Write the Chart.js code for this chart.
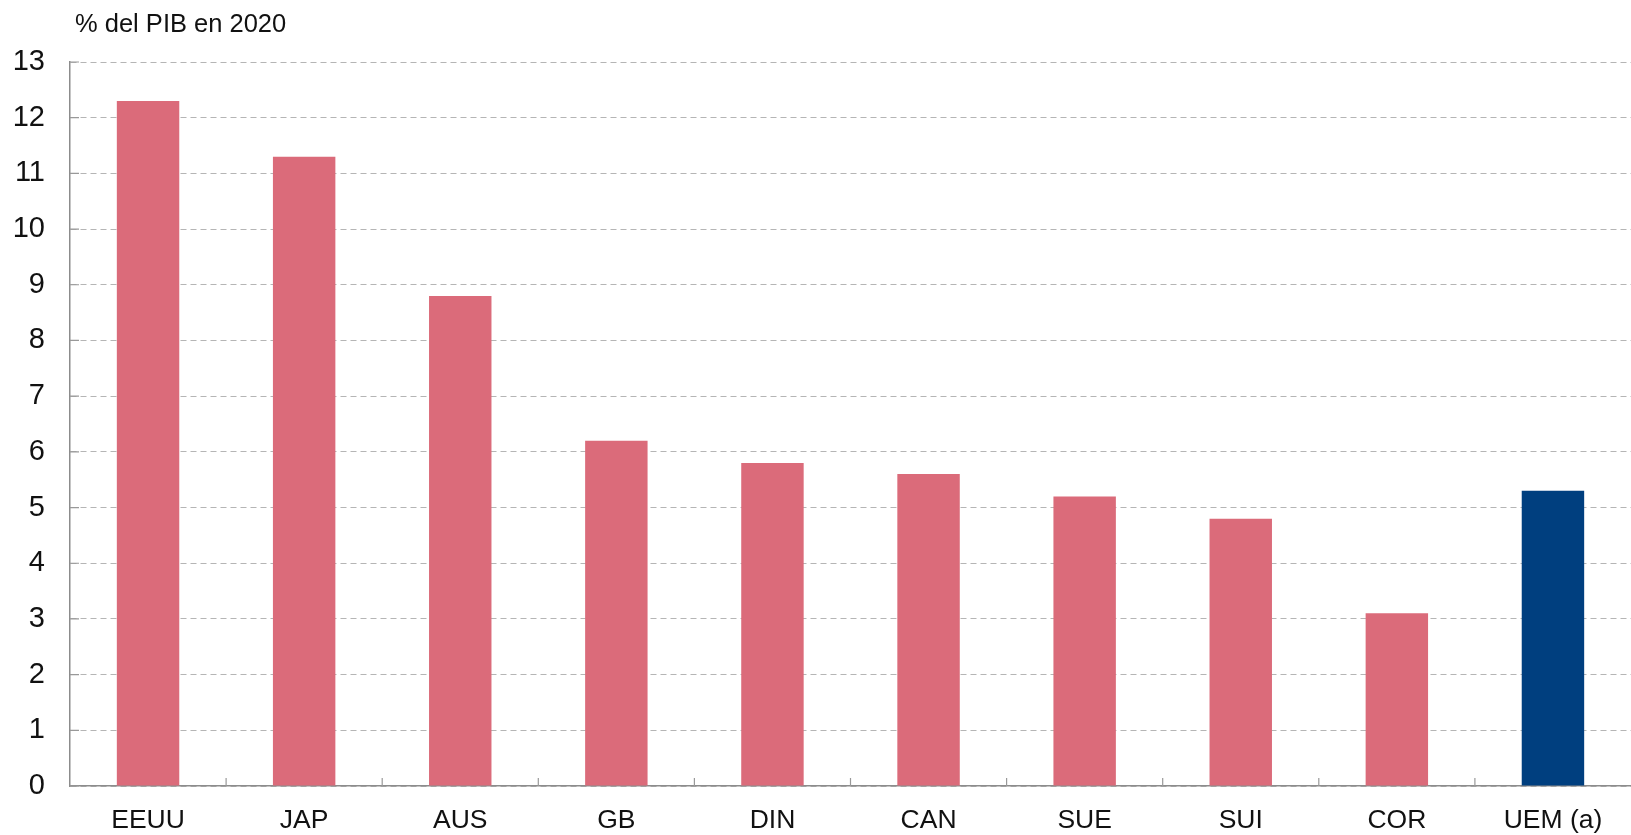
<!DOCTYPE html>
<html>
<head>
<meta charset="utf-8">
<script src="https://cdn.jsdelivr.net/npm/chart.js@4.4.0/dist/chart.umd.min.js"></script>
<style>
    html, body { margin: 0; padding: 0; background: #fff; }
    #wrap { position: relative; width: 1631px; height: 835px; }
    #unidad { position: absolute; left: 75px; top: 9px; font-family: "Liberation Sans", Arial, sans-serif; font-size: 25.5px; color: #111; }
</style>
</head>
<body>
<div id="wrap">
    <canvas id="myChart" width="1631" height="835"></canvas>
    <div id="unidad">% del PIB en 2020</div>
</div>
<script>
var paises = ['EEUU', 'JAP', 'AUS', 'GB', 'DIN', 'CAN', 'SUE', 'SUI', 'COR', 'UEM (a)'];
var valores = [12.3, 11.3, 8.8, 6.2, 5.8, 5.6, 5.2, 4.8, 3.1, 5.3];
var colores = ['#db6b7a', '#db6b7a', '#db6b7a', '#db6b7a', '#db6b7a', '#db6b7a', '#db6b7a', '#db6b7a', '#db6b7a', '#003f7f'];

// marcas cortas hacia dentro en los limites de categoria y en el eje y
var marcasEje = {
    id: 'marcasEje',
    afterDraw: function (chart) {
        var ctx = chart.ctx;
        var x = chart.scales.x;
        var y = chart.scales.y;
        var area = chart.chartArea;
        ctx.save();
        ctx.strokeStyle = '#999';
        ctx.lineWidth = 1.2;
        ctx.beginPath();
        for (var i = 1; i < paises.length; i++) {
            var px = (x.getPixelForValue(i - 1) + x.getPixelForValue(i)) / 2;
            ctx.moveTo(px, area.bottom);
            ctx.lineTo(px, area.bottom - 8);
        }
        y.ticks.forEach(function (t) {
            var py = y.getPixelForValue(t.value);
            ctx.moveTo(area.left, py);
            ctx.lineTo(area.left + 9, py);
        });
        ctx.stroke();
        ctx.restore();
    }
};

document.addEventListener('DOMContentLoaded', function () {
    var ctx = document.getElementById('myChart').getContext('2d');

    new Chart(ctx, {
        type: 'bar',
        data: {
            labels: paises,
            datasets: [{
                data: valores,
                backgroundColor: colores,
                borderWidth: 0,
                barPercentage: 0.8,
                categoryPercentage: 0.5
            }]
        },
        options: {
            responsive: false,
            animation: false,
            layout: { padding: { top: 62, right: 0, left: 0, bottom: 0 } },
            plugins: {
                legend: { display: false },
                tooltip: { enabled: false }
            },
            scales: {
                x: {
                    grid: { display: false, drawTicks: false },
                    border: { color: '#8c8c8c', width: 1.5 },
                    ticks: {
                        color: '#111',
                        padding: 19,
                        font: { family: '"Liberation Sans", Arial, sans-serif', size: 26.5 }
                    },
                    afterFit: function (scale) { scale.height = 49; }
                },
                y: {
                    min: 0,
                    max: 13,
                    grid: { color: '#b5b5b5', drawTicks: false, lineWidth: 1 },
                    border: { color: '#8c8c8c', width: 1.5, dash: [6, 4] },
                    ticks: {
                        stepSize: 1,
                        color: '#111',
                        padding: 25,
                        font: { family: '"Liberation Sans", Arial, sans-serif', size: 29 }
                    },
                    afterFit: function (scale) { scale.width = 70; }
                }
            }
        },
        plugins: [marcasEje]
    });
});
</script>
</body>
</html>
